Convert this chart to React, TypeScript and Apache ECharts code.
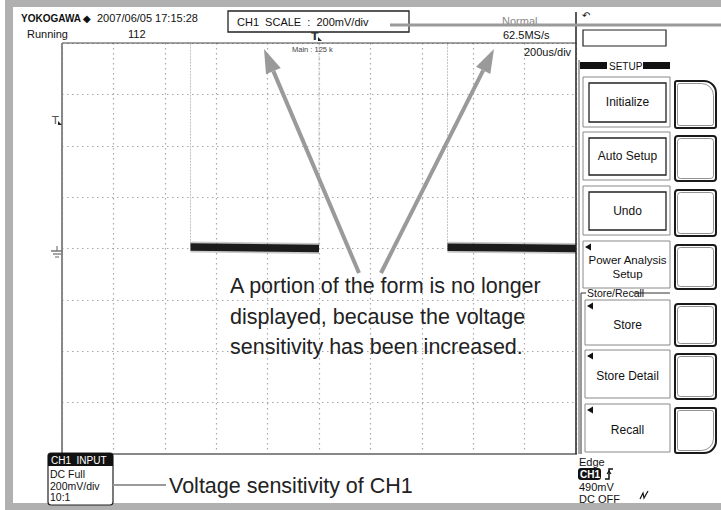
import React, { useEffect, useRef } from "react";
import * as echarts from "echarts";

// Scope settings / data
const timeMin = -1000; // us (200 us/div, 10 div)
const timeMax = 1000;
const timeStep = 200;
const voltMin = -800; // mV (200 mV/div, 8 div)
const voltMax = 800;
const voltStep = 200;

// square wave: high level is off-screen (clipped)
const edgeTimes = [-1000, -500, -500, 0, 0, 500, 500, 1000];
const edgeVolts = [1500, 1500, 8, 0, 1500, 1500, 7, 0];

// visible low-level segments (noisy band)
const lowTimes = [-500, 0, 250, 500, 1000];
const lowVolts: (number | string)[] = [6, 0, "-", 5, 0];

const annotationLines = [
  "A portion of the form is no longer",
  "displayed, because the voltage",
  "sensitivity has been increased.",
];
const menuLabels = ["Initialize", "Auto Setup", "Undo", "Power Analysis\nSetup", "Store", "Store Detail", "Recall"];
const inputLines = ["DC Full", "200mV/div", "10:1"];
const triggerLines = ["490mV", "DC OFF"];

const FONT = "Liberation Sans, Arial, sans-serif";

function arrow(x0: number, y0: number, tx: number, ty: number) {
  const dx = tx - x0, dy = ty - y0;
  const len = Math.sqrt(dx * dx + dy * dy);
  const ux = dx / len, uy = dy / len;
  const hl = 24, hw = 8;
  const bx = tx - ux * hl, by = ty - uy * hl;
  const px = -uy * hw, py = ux * hw;
  return [
    { type: "line", z: 50, shape: { x1: x0, y1: y0, x2: bx, y2: by }, style: { stroke: "#9a9a9a", lineWidth: 4 } },
    { type: "polygon", z: 50, shape: { points: [[tx, ty], [bx + px, by + py], [bx - px, by - py]] }, style: { fill: "#9a9a9a" } },
  ];
}

function txt(x: number, y: number, text: string, size = 11, extra: any = {}, z = 25) {
  return {
    type: "text",
    z,
    x,
    y,
    style: { text, fontSize: size, fontFamily: FONT, fill: "#111", verticalAlign: "middle", ...extra },
  };
}

export default function App() {
  const ref = useRef<HTMLDivElement>(null);
  useEffect(() => {
    if (!ref.current) return;
    const chart = echarts.init(ref.current, null, { renderer: "svg" });

    const g: any[] = [];
    // gray frame
    g.push({ type: "rect", z: 1, shape: { x: 0, y: 0, width: 721, height: 7 }, style: { fill: "#b0b0b0" } });
    g.push({ type: "rect", z: 1, shape: { x: 5, y: 0, width: 8, height: 510 }, style: { fill: "#b0b0b0" } });
    g.push({ type: "rect", z: 1, shape: { x: 5, y: 503, width: 716, height: 7 }, style: { fill: "#b0b0b0" } });
    g.push({ type: "rect", z: 1, shape: { x: 0, y: 0, width: 5, height: 510 }, style: { fill: "#fff" } });

    // header
    g.push(txt(21, 18, "YOKOGAWA", 10, { fontWeight: "bold" }));
    g.push(txt(83, 18, "◆", 10));
    g.push(txt(97, 18, "2007/06/05 17:15:28", 11));
    g.push(txt(27, 34, "Running", 11));
    g.push(txt(128, 34, "112", 11));
    g.push({ type: "rect", z: 20, shape: { x: 228, y: 11, width: 181, height: 21 }, style: { fill: "#fff", stroke: "#222", lineWidth: 1.3 } });
    g.push(txt(237, 21.5, "CH1  SCALE  :  200mV/div", 11));
    g.push(txt(502, 21, "Normal", 11, { fill: "#888" }));
    g.push({ type: "line", z: 30, shape: { x1: 390, y1: 25, x2: 721, y2: 25 }, style: { stroke: "#9a9a9a", lineWidth: 3 } });
    g.push(txt(503, 35, "62.5MS/s", 11));
    g.push(txt(292, 49, "Main : 125 k", 7.5, { fill: "#444" }));
    g.push(txt(524, 52, "200us/div", 11));
    g.push(txt(311, 36, "T", 11, { fontFamily: "DejaVu Sans", fontWeight: "bold", fill: "#333" }));
    g.push({ type: "polygon", z: 20, shape: { points: [[318, 37], [322, 41], [318, 41]] }, style: { fill: "#222" } });
    // right panel header
    g.push(txt(582, 15, "↶", 10, { fontFamily: "DejaVu Sans" }));
    g.push({ type: "rect", z: 20, shape: { x: 583, y: 30, width: 83, height: 16 }, style: { fill: "#fff", stroke: "#222", lineWidth: 1.2 } });

    // plot borders
    g.push({ type: "line", z: 15, shape: { x1: 62, y1: 43, x2: 576, y2: 43 }, style: { stroke: "#444", lineWidth: 1 } });
    g.push({ type: "line", z: 15, shape: { x1: 62, y1: 43, x2: 62, y2: 455 }, style: { stroke: "#888", lineWidth: 2 } });
    g.push({ type: "line", z: 15, shape: { x1: 62, y1: 454, x2: 577, y2: 454 }, style: { stroke: "#888", lineWidth: 2 } });
    g.push({ type: "line", z: 15, shape: { x1: 576, y1: 12, x2: 576, y2: 454 }, style: { stroke: "#222", lineWidth: 1.5 } });
    g.push({ type: "line", z: 15, shape: { x1: 579, y1: 60, x2: 579, y2: 454 }, style: { stroke: "#555", lineWidth: 1 } });

    // left markers
    g.push(txt(52, 120, "T", 11, { fontFamily: "DejaVu Sans", fill: "#555" }));
    g.push({ type: "polygon", z: 20, shape: { points: [[58, 121], [62, 125], [58, 125]] }, style: { fill: "#222" } });
    g.push({ type: "line", z: 20, shape: { x1: 57, y1: 246, x2: 57, y2: 251 }, style: { stroke: "#777", lineWidth: 1.2 } });
    g.push({ type: "line", z: 20, shape: { x1: 51, y1: 251, x2: 63, y2: 251 }, style: { stroke: "#777", lineWidth: 1.5 } });
    g.push({ type: "line", z: 20, shape: { x1: 53, y1: 254, x2: 61, y2: 254 }, style: { stroke: "#888", lineWidth: 1.5 } });
    g.push({ type: "line", z: 20, shape: { x1: 55, y1: 257, x2: 59, y2: 257 }, style: { stroke: "#999", lineWidth: 1.5 } });

    // SETUP header
    g.push({ type: "rect", z: 20, shape: { x: 580, y: 62, width: 27, height: 7 }, style: { fill: "#111" } });
    g.push(txt(609, 66, "SETUP", 10));
    g.push({ type: "rect", z: 20, shape: { x: 643, y: 62, width: 27, height: 7 }, style: { fill: "#111" } });

    // menu items
    const itemY = [77, 132, 186, 241, 300, 350, 404];
    const itemH = [50, 48, 49, 47, 45, 48, 48];
    menuLabels.forEach((label, i) => {
      const y = itemY[i], h = itemH[i];
      const left = i >= 4 ? 585 : 583;
      g.push({ type: "rect", z: 18, shape: { x: left, y, width: 670 - left, height: h }, style: { fill: "#fff", stroke: "#888", lineWidth: 1 } });
      if (i < 3) {
        g.push({ type: "rect", z: 19, shape: { x: 589, y: y + 6, width: 77, height: h - 11 }, style: { fill: "#fff", stroke: "#222", lineWidth: 1.3 } });
        g.push(txt(627.5, y + h / 2, label, 12, { align: "center" }));
      } else {
        g.push({ type: "polygon", z: 20, shape: { points: [[left + 2, y + 6], [left + 8, y + 2.5], [left + 8, y + 9.5]] }, style: { fill: "#111" } });
        g.push(txt(627.5, y + h / 2 + 2, label, label.includes("\n") ? 11.5 : 12, { align: "center", lineHeight: 14 }));
      }
      // soft keys
      const r = i === 0 ? [2, 12, 2, 2] : i === 6 ? [2, 2, 12, 2] : [3, 3, 3, 3];
      g.push({ type: "rect", z: 18, shape: { x: 675, y: y + 4, width: 41, height: h - 3, r }, style: { fill: "#fff", stroke: "#1a1a1a", lineWidth: 2 } });
      g.push({ type: "rect", z: 18, shape: { x: 677.5, y: y + 6.5, width: 36, height: h - 8, r }, style: { fill: "none", stroke: "#777", lineWidth: 0.8 } });
    });
    // Store/Recall group
    g.push({ type: "polyline", z: 17, shape: { points: [[586, 293], [581, 293], [581, 454]] }, style: { stroke: "#333", lineWidth: 1, fill: "none" } });
    g.push({ type: "line", z: 17, shape: { x1: 633, y1: 293, x2: 670, y2: 293 }, style: { stroke: "#333", lineWidth: 1 } });
    g.push(txt(587, 293, "Store/Recall", 10.5));

    // trigger info (bottom right)
    g.push(txt(579, 462, "Edge", 11));
    g.push({ type: "rect", z: 20, shape: { x: 578, y: 468, width: 23, height: 12, r: 3 }, style: { fill: "#111" } });
    g.push(txt(580, 474.5, "CH1", 10, { fill: "#fff", fontWeight: "bold" }, 30));
    g.push({ type: "polyline", z: 20, shape: { points: [[605, 479], [609, 479], [609, 469], [613, 469]] }, style: { stroke: "#111", lineWidth: 1.5, fill: "none" } });
    g.push({ type: "polyline", z: 20, shape: { points: [[607, 474], [609, 471], [611, 474]] }, style: { stroke: "#111", lineWidth: 1.2, fill: "none" } });
    triggerLines.forEach((t, i) => g.push(txt(579, 487 + i * 12, t, 11)));
    g.push({ type: "polyline", z: 20, shape: { points: [[640, 499], [643, 493], [644, 498], [648, 491]] }, style: { stroke: "#111", lineWidth: 1.2, fill: "none" } });

    // CH1 INPUT (bottom left)
    g.push({ type: "rect", z: 20, shape: { x: 48, y: 453, width: 65, height: 52, r: 3 }, style: { fill: "#fff", stroke: "#222", lineWidth: 1.2 } });
    g.push({ type: "rect", z: 21, shape: { x: 48, y: 453, width: 65, height: 13, r: [3, 3, 0, 0] }, style: { fill: "#111" } });
    g.push(txt(51, 460, "CH1  INPUT", 10, { fill: "#fff" }, 30));
    inputLines.forEach((t, i) => g.push(txt(50, 474 + i * 11.5, t, 10.5)));
    g.push({ type: "line", z: 20, shape: { x1: 113, y1: 485, x2: 166, y2: 485 }, style: { stroke: "#9a9a9a", lineWidth: 2 } });
    g.push(txt(169, 486, "Voltage sensitivity of CH1", 21.5, { fill: "#222" }));

    // annotation
    annotationLines.forEach((t, i) => g.push(txt(230, 286 + i * 30.5, t, 21.5, { fill: "#222" })));
    g.push(...arrow(359, 273, 264, 49));
    g.push(...arrow(381, 273, 494, 49));

    chart.setOption({
      animation: false,
      backgroundColor: "#fff",
      grid: { left: 62, top: 43, width: 514, height: 411, show: false },
      xAxis: {
        type: "value",
        min: timeMin,
        max: timeMax,
        interval: timeStep,
        axisLine: { show: false },
        axisTick: { show: false },
        axisLabel: { show: false },
        splitLine: { show: true, lineStyle: { color: "#a8a8a8", width: 1.2, type: [1.5, 3.5] } },
      },
      yAxis: {
        type: "value",
        min: voltMin,
        max: voltMax,
        interval: voltStep,
        axisLine: { show: false },
        axisTick: { show: false },
        axisLabel: { show: false },
        splitLine: { show: true, lineStyle: { color: "#a8a8a8", width: 1.2, type: [1.5, 3.5] } },
      },
      graphic: { elements: g },
      series: [
        {
          type: "line",
          clip: true,
          symbol: "none",
          data: edgeTimes.map((t, i) => [t, edgeVolts[i]]),
          lineStyle: { color: "#c4c4c4", width: 1, type: [2, 1] },
          z: 3,
        },
        {
          type: "line",
          clip: true,
          symbol: "none",
          data: lowTimes.map((t, i) => [t, lowVolts[i]]),
          lineStyle: { color: "#666", width: 11, opacity: 0.35, cap: "butt" },
          z: 4,
        },
        {
          type: "line",
          clip: true,
          symbol: "none",
          data: lowTimes.map((t, i) => [t, lowVolts[i]]),
          lineStyle: { color: "#1c1c1c", width: 7.5, cap: "butt" },
          z: 5,
        },
      ],
    });
    return () => chart.dispose();
  }, []);
  return <div ref={ref} style={{ position: "fixed", left: 0, top: 0, width: 721, height: 510 }} />;
}
